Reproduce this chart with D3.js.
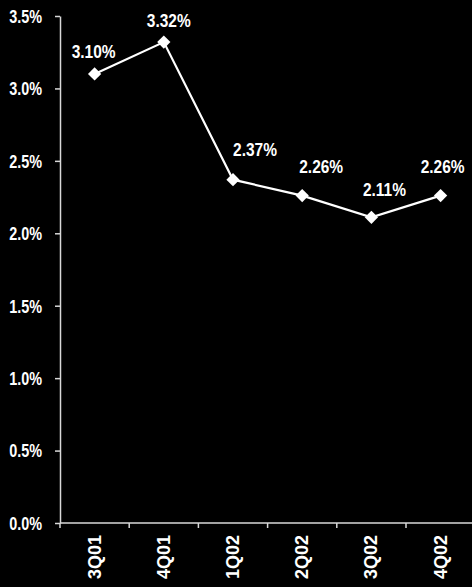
<!DOCTYPE html>
<html>
<head>
<meta charset="utf-8">
<script src="https://cdn.jsdelivr.net/npm/d3@7"></script>
<style>
  html, body { margin: 0; padding: 0; background: #000; }
  svg { display: block; }
  text { font-family: "Liberation Sans", Arial, sans-serif; font-weight: bold; fill: #fff; }
</style>
</head>
<body>
<svg id="chart" width="472" height="587"></svg>
<script>
// Quarterly rate series
const quarters = ["3Q01", "4Q01", "1Q02", "2Q02", "3Q02", "4Q02"];
const rates = [3.10, 3.32, 2.37, 2.26, 2.11, 2.26];
const yTicks = [0, 0.5, 1.0, 1.5, 2.0, 2.5, 3.0, 3.5];

// Label nudges (dx, dy) relative to each marker
const labelDx = [-1, 5, 22, 19, 13, 2];
const labelDy = [-16, -15, -24, -23, -21, -23];

const svg = d3.select("#chart");
const margin = { left: 60, top: 16, bottom: 64 };
const width = 472, height = 587;
const plotRight = margin.left + 6 * 69.2;

const x = d3.scaleBand().domain(quarters).range([margin.left, plotRight]).padding(0);
const y = d3.scaleLinear().domain([0, 3.5]).range([height - margin.bottom, margin.top]);

const axisColor = "#d8d8d8";

// Narrow the glyphs horizontally, like a condensed face
function condense(sel, factor) {
  sel.each(function () {
    const len = this.getComputedTextLength();
    d3.select(this).attr("textLength", len * factor).attr("lengthAdjust", "spacingAndGlyphs");
  });
}

// Y axis
const yAxis = svg.append("g")
  .attr("transform", `translate(${margin.left},0)`)
  .call(d3.axisLeft(y).tickValues(yTicks).tickFormat(d => d.toFixed(1) + "%").tickSize(5).tickPadding(13).tickSizeOuter(0));
yAxis.selectAll("path, line").attr("stroke", axisColor).attr("stroke-width", 1.5);
yAxis.selectAll("text").style("font-size", "18px").attr("fill", "#fff").attr("dy", "0.35em")
  .call(condense, 0.8);

// X axis: ticks at category boundaries
const xAxis = svg.append("g")
  .attr("transform", `translate(0,${y(0)})`);
xAxis.append("line")
  .attr("x1", margin.left).attr("x2", width)
  .attr("stroke", axisColor).attr("stroke-width", 1.5);
xAxis.selectAll("line.tick")
  .data(quarters)
  .join("line")
  .attr("class", "tick")
  .attr("x1", d => x(d)).attr("x2", d => x(d))
  .attr("y1", 0).attr("y2", 5)
  .attr("stroke", axisColor).attr("stroke-width", 1.5);
xAxis.selectAll("text")
  .data(quarters)
  .join("text")
  .attr("transform", d => `translate(${x(d) + x.bandwidth() / 2 + 6},12) rotate(-90)`)
  .attr("text-anchor", "end")
  .style("font-size", "18px")
  .text(d => d);

// Line
const cx = d => x(d) + x.bandwidth() / 2;
const line = d3.line()
  .x((d, i) => cx(quarters[i]))
  .y(d => y(d));

svg.append("path")
  .datum(rates)
  .attr("d", line)
  .attr("fill", "none")
  .attr("stroke", "#fff")
  .attr("stroke-width", 2.2);

// Diamond markers
svg.selectAll("path.marker")
  .data(rates)
  .join("path")
  .attr("class", "marker")
  .attr("d", d3.symbol().type(d3.symbolSquare).size(88))
  .attr("transform", (d, i) => `translate(${cx(quarters[i])},${y(d)}) rotate(45)`)
  .attr("fill", "#fff");

// Value labels
svg.selectAll("text.value")
  .data(rates)
  .join("text")
  .attr("class", "value")
  .attr("x", (d, i) => cx(quarters[i]) + labelDx[i])
  .attr("y", (d, i) => y(d) + labelDy[i])
  .attr("text-anchor", "middle")
  .style("font-size", "18px")
  .text(d => d.toFixed(2) + "%")
  .call(condense, 0.86);
</script>
</body>
</html>
